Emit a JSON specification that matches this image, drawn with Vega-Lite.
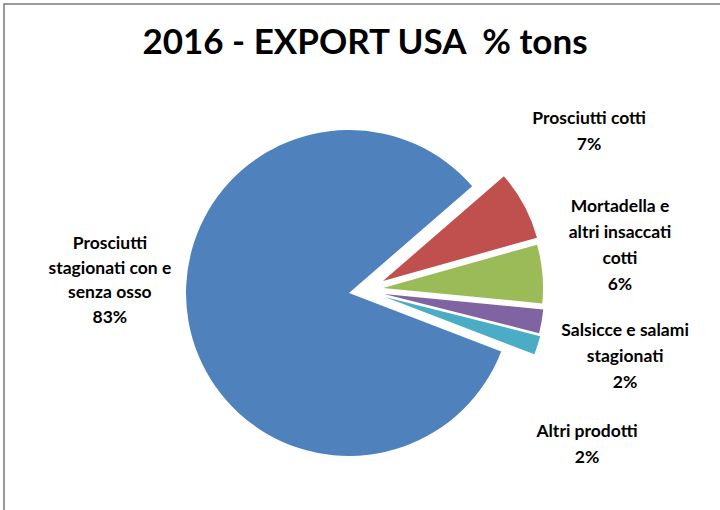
{
  "$schema": "https://vega.github.io/schema/vega-lite/v6.json",
  "width": 720,
  "height": 510,
  "autosize": {"type": "none"},
  "padding": {"left": 4, "top": 4, "right": -4, "bottom": -4},
  "background": "white",
  "view": {"stroke": "#7a7a7a", "strokeWidth": 1.5, "fill": "white"},
  "config": {"font": "Lato"},
  "title": {"text": "2016 - EXPORT USA \u00a0% tons", "fontSize": 35, "font": "Lato", "fontWeight": "bold", "color": "#000000", "anchor": "middle", "frame": "group", "offset": -57, "dx": 1},
  "data": {"values": [
    {"product": "Prosciutti stagionati con e senza osso", "label": "Prosciutti\nstagionati con e\nsenza osso\n83%", "value": 82.8},
    {"product": "Prosciutti cotti", "label": "Prosciutti cotti\n7%", "value": 7.0},
    {"product": "Mortadella e altri insaccati cotti", "label": "Mortadella e\naltri insaccati\ncotti\n6%", "value": 5.9},
    {"product": "Salsicce e salami stagionati", "label": "Salsicce e salami\nstagionati\n2%", "value": 2.4},
    {"product": "Altri prodotti", "label": "Altri prodotti\n2%", "value": 1.9}
  ]},
  "transform": [{"stack": "value", "groupby": [], "as": ["v0", "v1"]}],
  "layer": [
    {"transform": [{"filter": "datum.product === 'Prosciutti stagionati con e senza osso'"}],
     "mark": {"type": "arc", "radius": 163, "xOffset": -15, "yOffset": 34},
     "encoding": {"theta": {"field": "v0", "type": "quantitative", "scale": {"domain": [0, 100], "range": [1.93732, 8.22051]}}, "theta2": {"field": "v1"},
       "color": {"field": "product", "type": "nominal", "legend": null,
         "scale": {"domain": ["Prosciutti stagionati con e senza osso", "Prosciutti cotti", "Mortadella e altri insaccati cotti", "Salsicce e salami stagionati", "Altri prodotti"],
                   "range": ["#4F81BD", "#C0504D", "#9BBB59", "#8064A2", "#4BACC6"]}}}},
    {"transform": [{"filter": "datum.product === 'Prosciutti cotti'"}],
     "mark": {"type": "arc", "radius": 160, "xOffset": 19, "yOffset": 22},
     "encoding": {"theta": {"field": "v0", "type": "quantitative"}, "theta2": {"field": "v1"}, "color": {"field": "product", "type": "nominal", "legend": null}}},
    {"transform": [{"filter": "datum.product === 'Mortadella e altri insaccati cotti'"}],
     "mark": {"type": "arc", "radius": 160, "xOffset": 19, "yOffset": 29},
     "encoding": {"theta": {"field": "v0", "type": "quantitative"}, "theta2": {"field": "v1"}, "color": {"field": "product", "type": "nominal", "legend": null}}},
    {"transform": [{"filter": "datum.product === 'Salsicce e salami stagionati'"}],
     "mark": {"type": "arc", "radius": 160, "xOffset": 20, "yOffset": 35},
     "encoding": {"theta": {"field": "v0", "type": "quantitative"}, "theta2": {"field": "v1"}, "color": {"field": "product", "type": "nominal", "legend": null}}},
    {"transform": [{"filter": "datum.product === 'Altri prodotti'"}],
     "mark": {"type": "arc", "radius": 160, "xOffset": 21, "yOffset": 38},
     "encoding": {"theta": {"field": "v0", "type": "quantitative"}, "theta2": {"field": "v1"}, "color": {"field": "product", "type": "nominal", "legend": null}}},
    {"mark": {"type": "text", "radius": 256, "dy": -59, "dx": -2, "align": "center", "baseline": "middle", "lineBreak": "\n", "fontSize": 17.5, "fontWeight": "bold", "lineHeight": 24.5, "color": "#000000"},
     "encoding": {"theta": {"field": "value", "type": "quantitative", "stack": true}, "order": {"field": "v0", "type": "quantitative"},
       "text": {"condition": {"test": "datum.product === 'Prosciutti stagionati con e senza osso'", "field": "label"}, "value": ""}}},
    {"mark": {"type": "text", "radius": 258, "dy": -18, "dx": -2, "align": "center", "baseline": "middle", "lineBreak": "\n", "fontSize": 17.5, "fontWeight": "bold", "lineHeight": 26, "color": "#000000"},
     "encoding": {"theta": {"field": "value", "type": "quantitative", "stack": true}, "order": {"field": "v0", "type": "quantitative"},
       "text": {"condition": {"test": "datum.product === 'Prosciutti cotti'", "field": "label"}, "value": ""}}},
    {"mark": {"type": "text", "radius": 259, "dy": -29, "dx": -2, "align": "center", "baseline": "middle", "lineBreak": "\n", "fontSize": 17.5, "fontWeight": "bold", "lineHeight": 26, "color": "#000000"},
     "encoding": {"theta": {"field": "value", "type": "quantitative", "stack": true}, "order": {"field": "v0", "type": "quantitative"},
       "text": {"condition": {"test": "datum.product === 'Mortadella e altri insaccati cotti'", "field": "label"}, "value": ""}}},
    {"mark": {"type": "text", "radius": 267, "dy": 26, "dx": -2, "align": "center", "baseline": "middle", "lineBreak": "\n", "fontSize": 17.5, "fontWeight": "bold", "lineHeight": 26, "color": "#000000"},
     "encoding": {"theta": {"field": "value", "type": "quantitative", "stack": true}, "order": {"field": "v0", "type": "quantitative"},
       "text": {"condition": {"test": "datum.product === 'Salsicce e salami stagionati'", "field": "label"}, "value": ""}}},
    {"mark": {"type": "text", "radius": 236, "dy": 102, "dx": -2, "align": "center", "baseline": "middle", "lineBreak": "\n", "fontSize": 17.5, "fontWeight": "bold", "lineHeight": 26, "color": "#000000"},
     "encoding": {"theta": {"field": "value", "type": "quantitative", "stack": true}, "order": {"field": "v0", "type": "quantitative"},
       "text": {"condition": {"test": "datum.product === 'Altri prodotti'", "field": "label"}, "value": ""}}}
  ]
}
